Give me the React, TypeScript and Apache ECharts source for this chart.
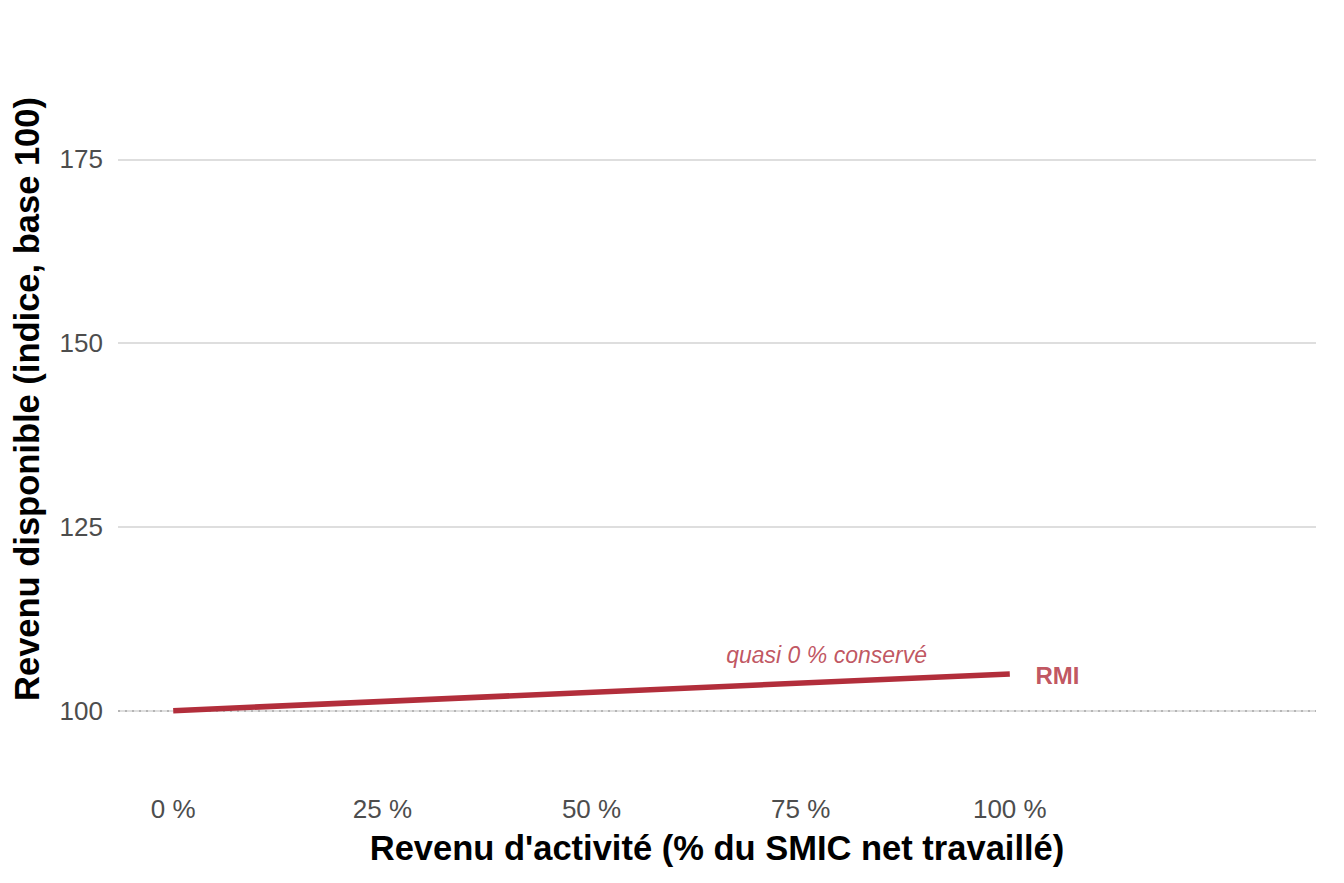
import React, { useEffect, useRef } from "react";
import * as echarts from "echarts";

const xValues = [0, 100];
const rmiValues = [100, 105];
const xTicks = [0, 25, 50, 75, 100];
const yTicks = [100, 125, 150, 175];
const annotationNote = { x: 78.1, y: 107.6, text: "quasi 0 % conservé" };
const annotationSeries = { x: 105.7, y: 104.8, text: "RMI" };

const RED = "#b22e3b";
const FONT = "Liberation Sans";

export default function App() {
  const ref = useRef<HTMLDivElement>(null);
  useEffect(() => {
    document.body.style.margin = "0";
    const chart = echarts.init(ref.current!, null, { renderer: "svg" });
    chart.setOption({
      animation: false,
      textStyle: { fontFamily: FONT },
      grid: { left: 118, right: 28, top: 5, bottom: 90, outerBoundsMode: "none", containLabel: false },
      xAxis: {
        type: "value",
        min: -6.6,
        max: 136.6,
        axisLine: { show: false },
        axisTick: { show: false },
        splitLine: { show: false },
        axisLabel: {
          customValues: xTicks,
          formatter: (v: number) => `${v} %`,
          color: "#4d4d4d",
          fontSize: 26,
          margin: 3,
          fontFamily: FONT,
        },
        name: "Revenu d'activité (% du SMIC net travaillé)",
        nameLocation: "middle",
        nameGap: 37,
        nameTextStyle: { color: "#000", fontSize: 34.5, fontWeight: "bold", fontFamily: FONT },
      },
      yAxis: {
        type: "value",
        min: 88.8,
        max: 196,
        axisLine: { show: false },
        axisTick: { show: false },
        splitLine: { show: false },
        axisLabel: {
          customValues: yTicks,
          color: "#4d4d4d",
          fontSize: 26,
          margin: 15,
          fontFamily: FONT,
        },
        name: "Revenu disponible (indice, base 100)",
        nameLocation: "middle",
        nameGap: 74,
        nameTextStyle: { color: "#000", fontSize: 34.5, fontWeight: "bold", fontFamily: FONT },
      },
      series: [
        {
          type: "line",
          data: [],
          silent: true,
          markLine: {
            silent: true,
            symbol: "none",
            label: { show: false },
            lineStyle: { color: "#dedede", width: 2.2, type: "solid" },
            data: yTicks.map((v) => ({ yAxis: v })),
          },
          z: 1,
        },
        {
          type: "line",
          data: [],
          silent: true,
          markLine: {
            silent: true,
            symbol: "none",
            label: { show: false },
            lineStyle: { color: "#a8a8a8", width: 1.5, type: [2, 5] },
            data: [{ yAxis: 100 }],
          },
          z: 2,
        },
        {
          name: "RMI",
          type: "line",
          data: xValues.map((x, i) => [x, rmiValues[i]]),
          showSymbol: false,
          lineStyle: { color: RED, width: 5.5 },
          z: 5,
        },
        {
          type: "scatter",
          symbolSize: 0,
          silent: true,
          data: [[annotationNote.x, annotationNote.y]],
          label: {
            show: true,
            position: "inside",
            formatter: annotationNote.text,
            color: "#b02a38",
            fontSize: 23,
            fontStyle: "italic",
            fontFamily: FONT,
          },
        },
        {
          type: "scatter",
          symbolSize: 0,
          silent: true,
          data: [[annotationSeries.x, annotationSeries.y]],
          label: {
            show: true,
            position: "inside",
            formatter: annotationSeries.text,
            color: "#b02a38",
            fontSize: 24,
            fontWeight: "bold",
            fontFamily: FONT,
          },
        },
      ],
    });
    return () => chart.dispose();
  }, []);
  return <div ref={ref} style={{ width: 1344, height: 883 }} />;
}
